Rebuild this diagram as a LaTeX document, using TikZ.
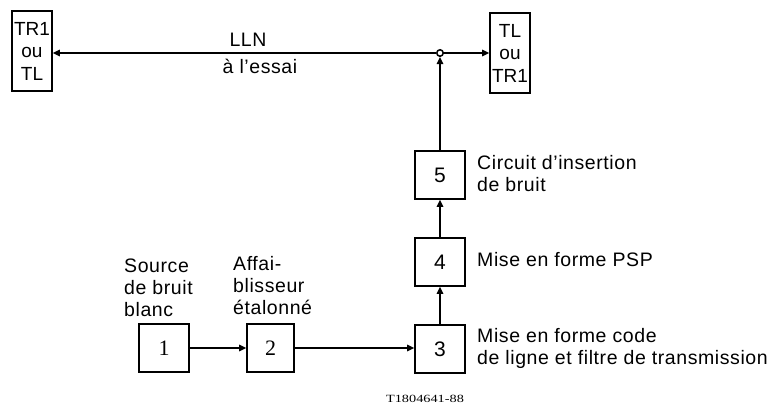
\documentclass[tikz,border=0pt]{standalone}
\usepackage{fontspec}
\usepackage{graphicx}
\setmainfont{Liberation Sans}
\newfontfamily\numfont{Liberation Serif}
\usetikzlibrary{arrows.meta}
\begin{document}
\begin{tikzpicture}[x=1pt,y=-1pt,
  box/.style={draw,line width=1.6pt,inner sep=0pt},
  endbox/.style={box,minimum width=40pt,minimum height=80pt,align=center,font=\fontsize{19}{22.5}\selectfont},
  numbox/.style={box,minimum width=50pt,minimum height=48pt,font=\fontsize{21}{21}\selectfont},
  serifnum/.style={font=\numfont\fontsize{22}{22}\selectfont},
  lbl/.style={font=\fontsize{19.5}{22}\selectfont\addfontfeature{LetterSpace=3},align=left,inner sep=0pt},
  conn/.style={line width=1.5pt,-{Triangle[length=7pt,width=6.5pt]}}]
\useasboundingbox (0,0) rectangle (774,407);
% end boxes
\node[endbox] (L) at (32,51) {TR1\\ou\\TL};
\node[endbox] (R) at (510,53) {TL\\ou\\TR1};
\node[draw,circle,line width=1.5pt,minimum size=6.5pt,inner sep=0pt] (J) at (440,53) {};
% numbered boxes
\node[numbox,serifnum] (b1) at (164,348) {1};
\node[numbox,serifnum,minimum width=47pt] (b2) at (270.5,348) {2};
\node[numbox] (b3) at (440,349) {3};
\node[numbox] (b4) at (440,262) {4};
\node[numbox] (b5) at (440,175) {5};
% connectors
\draw[conn] (b1) -- (b2);
\draw[conn] (b2.east |- b1) -- (b3.west |- b1);
\draw[conn] (b3) -- (b4);
\draw[conn] (b4) -- (b5);
\draw[conn] (b5) -- (J);
\draw[conn] (J) -- (R.west |- J);
\draw[conn] (J) -- (L.east |- J);
% labels
\node[lbl,anchor=base] (lln) at (248,46) {LLN};
\node[lbl,anchor=base] (ess) at (260,73) {à l’essai};
\node[lbl,anchor=south west] (l1) at (124,317) {Source\\de bruit\\blanc};
\node[lbl,anchor=south west] (l2) at (233,315) {Affai-\\blisseur\\étalonné};
\node[lbl,anchor=west] (l5) at (477,174) {Circuit d’insertion\\de bruit};
\node[lbl,anchor=west] (l4) at (477,260) {Mise en forme PSP};
\node[lbl,anchor=west] (l3) at (477,348) {Mise en forme code\\de ligne et filtre de transmission};
\node[font=\numfont\fontsize{11}{11}\selectfont,inner sep=0pt,anchor=base] (ref) at (425,402) {\scalebox{1.3}[1]{T1804641-88}};
\end{tikzpicture}
\end{document}
